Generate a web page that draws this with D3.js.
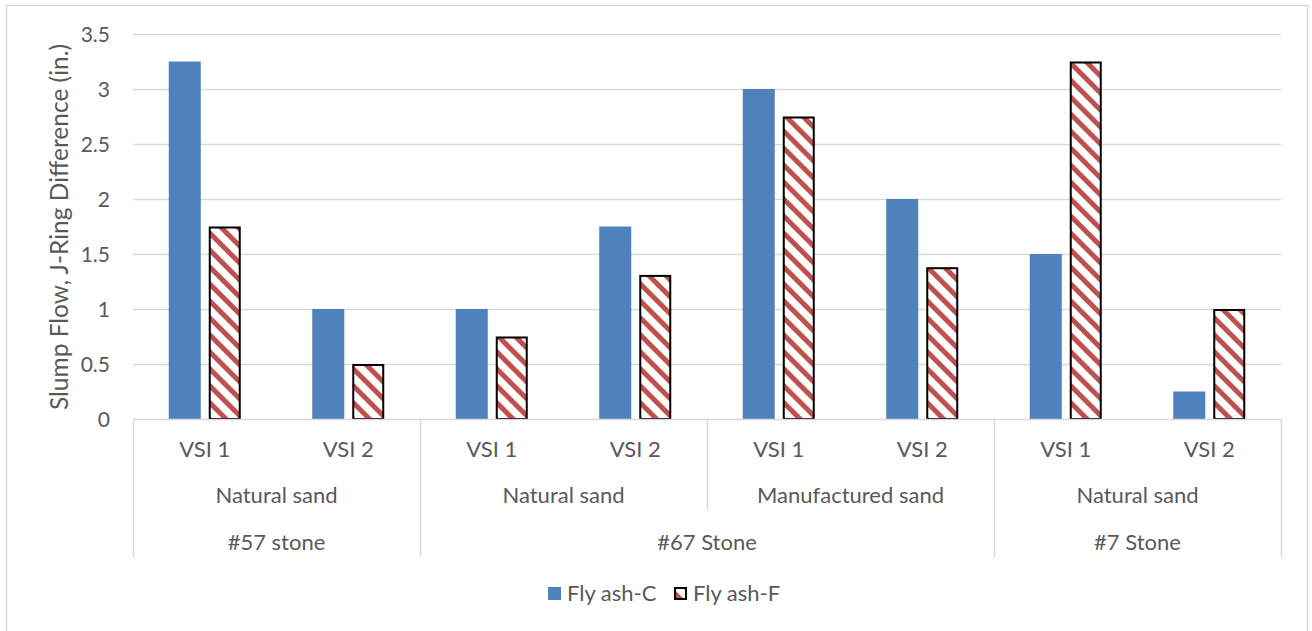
<!DOCTYPE html>
<html>
<head>
<meta charset="utf-8">
<script src="https://cdn.jsdelivr.net/npm/d3@7"></script>
<style>
  html, body { margin: 0; padding: 0; background: #fff; }
  svg { display: block; }
  text { font-family: Lato, "Open Sans", sans-serif; fill: #595959; }
</style>
</head>
<body>
<svg id="chart" width="1312" height="631"></svg>
<script>
// Mix identifiers along the horizontal axis
const categories = ["VSI 1", "VSI 2", "VSI 1", "VSI 2", "VSI 1", "VSI 2", "VSI 1", "VSI 2"];
const sandGroups = [
  { label: "Natural sand", from: 0, to: 1 },
  { label: "Natural sand", from: 2, to: 3 },
  { label: "Manufactured sand", from: 4, to: 5 },
  { label: "Natural sand", from: 6, to: 7 }
];
const stoneGroups = [
  { label: "#57 stone", from: 0, to: 1 },
  { label: "#67 Stone", from: 2, to: 5 },
  { label: "#7 Stone", from: 6, to: 7 }
];

// Slump flow minus J-ring flow (in.)
const seriesNames = ["Fly ash-C", "Fly ash-F"];
const flyAshC = [3.25, 1.0, 1.0, 1.75, 3.0, 2.0, 1.5, 0.25];
const flyAshF = [1.75, 0.5, 0.75, 1.31, 2.75, 1.38, 3.25, 1.0];
const yTicks = [0, 0.5, 1, 1.5, 2, 2.5, 3, 3.5];
const yTitle = "Slump Flow, J-Ring Difference (in.)";

const svg = d3.select("#chart");
const gridColor = "#d9d9d9";
const blue = "#4f81bd";
const red = "#c0504d";
const labelSize = "22px";

// Hatch for the Fly ash-F bars: downward diagonal red stripes
const defs = svg.append("defs");
const pat = defs.append("pattern")
  .attr("id", "hatch")
  .attr("patternUnits", "userSpaceOnUse")
  .attr("width", 12).attr("height", 12)
  .attr("patternTransform", "rotate(45)");
pat.append("rect").attr("width", 12).attr("height", 12).attr("fill", "#fff");
pat.append("rect").attr("x", 0).attr("y", 0).attr("width", 12).attr("height", 5).attr("fill", red);

// Chart frame
svg.append("rect")
  .attr("x", 6.5).attr("y", 5.5).attr("width", 1301).attr("height", 640)
  .attr("fill", "#fff").attr("stroke", gridColor).attr("stroke-width", 1.5);

const plot = { left: 133, right: 1281, top: 34, bottom: 419 };

const x = d3.scaleBand()
  .domain(d3.range(categories.length))
  .range([plot.left, plot.right])
  .paddingInner(0).paddingOuter(0);

const bw = x.bandwidth();
const xSub = d3.scaleBand()
  .domain(seriesNames)
  .range([bw / 2 - 36, bw / 2 + 36])
  .paddingInner(0.2).paddingOuter(0);

const y = d3.scaleLinear().domain([0, 3.5]).range([plot.bottom, plot.top]);

// Horizontal gridlines
svg.append("g").selectAll("line")
  .data(yTicks.filter(d => d > 0))
  .join("line")
  .attr("x1", plot.left).attr("x2", plot.right)
  .attr("y1", d => Math.round(y(d)) + 0.5).attr("y2", d => Math.round(y(d)) + 0.5)
  .attr("stroke", gridColor).attr("stroke-width", 1.5);

// Y axis tick labels
const yAxis = d3.axisLeft(y).tickValues(yTicks).tickSize(0).tickPadding(0)
  .tickFormat(d3.format("~g"));
const gy = svg.append("g").attr("transform", `translate(110,0)`).call(yAxis);
gy.select(".domain").remove();
gy.selectAll("text").style("font-size", "21px").attr("fill", "#595959").attr("dy", "0.36em")
  .style("font-family", "Lato, sans-serif");

// Y axis title, sized to span from just below the top tick to the baseline
const title = svg.append("text")
  .attr("transform", `translate(68,227) rotate(-90)`)
  .attr("text-anchor", "middle")
  .style("font-size", "22px")
  .text(yTitle);
const titleLen = title.node().getComputedTextLength();
if (titleLen > 0) title.style("font-size", (22 * 366 / titleLen).toFixed(2) + "px");

// Bars
const rows = categories.map((c, i) => ({ i, values: [flyAshC[i], flyAshF[i]] }));
const groups = svg.append("g").selectAll("g")
  .data(rows).join("g")
  .attr("transform", d => `translate(${x(d.i)},0)`);

groups.append("rect")
  .attr("x", xSub("Fly ash-C"))
  .attr("width", xSub.bandwidth())
  .attr("y", d => y(d.values[0]))
  .attr("height", d => y(0) - y(d.values[0]))
  .attr("fill", blue);

groups.append("rect")
  .attr("x", xSub("Fly ash-F") + 1)
  .attr("width", xSub.bandwidth() - 2)
  .attr("y", d => y(d.values[1]) + 1)
  .attr("height", d => y(0) - y(d.values[1]) - 1)
  .attr("fill", "url(#hatch)")
  .attr("stroke", "#000").attr("stroke-width", 2);

// Category axis line and group separators
const axisG = svg.append("g");
axisG.append("line")
  .attr("x1", plot.left).attr("x2", plot.right)
  .attr("y1", plot.bottom + 0.5).attr("y2", plot.bottom + 0.5)
  .attr("stroke", gridColor).attr("stroke-width", 1.5);

const sepBottom = 557, sandSepBottom = 510;
const stoneEdges = new Set();
stoneGroups.forEach(g => { stoneEdges.add(g.from); stoneEdges.add(g.to + 1); });
const sandEdges = new Set();
sandGroups.forEach(g => { sandEdges.add(g.from); sandEdges.add(g.to + 1); });
const edgeX = i => (i < categories.length ? x(i) : plot.right);

Array.from(sandEdges).sort((a, b) => a - b).forEach(i => {
  axisG.append("line")
    .attr("x1", Math.round(edgeX(i)) + 0.5).attr("x2", Math.round(edgeX(i)) + 0.5)
    .attr("y1", plot.bottom).attr("y2", stoneEdges.has(i) ? sepBottom : sandSepBottom)
    .attr("stroke", gridColor).attr("stroke-width", 1.5);
});

// Category labels: three tiers
axisG.append("g").selectAll("text")
  .data(categories).join("text")
  .attr("x", (d, i) => x(i) + bw / 2)
  .attr("y", 457)
  .attr("text-anchor", "middle")
  .style("font-size", labelSize)
  .text(d => d);

const spanCenter = g => (edgeX(g.from) + edgeX(g.to + 1)) / 2;
axisG.append("g").selectAll("text")
  .data(sandGroups).join("text")
  .attr("x", spanCenter).attr("y", 503)
  .attr("text-anchor", "middle")
  .style("font-size", labelSize)
  .text(d => d.label);

axisG.append("g").selectAll("text")
  .data(stoneGroups).join("text")
  .attr("x", spanCenter).attr("y", 550)
  .attr("text-anchor", "middle")
  .style("font-size", labelSize)
  .text(d => d.label);

// Legend
const legend = svg.append("g");
const legendItems = [
  { name: seriesNames[0], x: 548, fill: blue, stroke: "none" },
  { name: seriesNames[1], x: 674, fill: "url(#hatch)", stroke: "#000" }
];
legendItems.forEach(it => {
  const plain = it.stroke === "none";
  legend.append("rect")
    .attr("x", it.x + (plain ? 0 : 1)).attr("y", 587 + (plain ? 0 : 1))
    .attr("width", plain ? 13 : 11).attr("height", plain ? 13 : 11)
    .attr("fill", it.fill).attr("stroke", it.stroke).attr("stroke-width", 2);
  legend.append("text")
    .attr("x", it.x + 19).attr("y", 601)
    .style("font-size", labelSize)
    .text(it.name);
});
</script>
</body>
</html>
